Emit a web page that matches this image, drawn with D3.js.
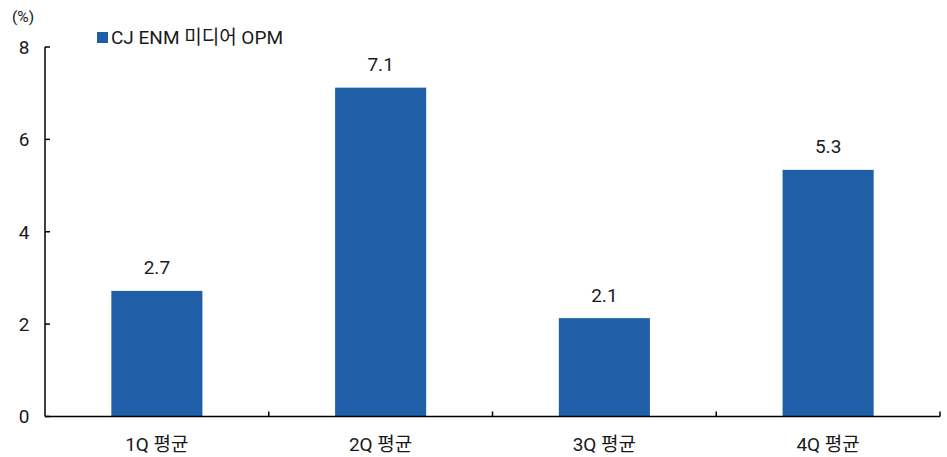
<!DOCTYPE html>
<html><head><meta charset="utf-8">
<script src="https://cdn.jsdelivr.net/npm/d3@7"></script>
<style>body{margin:0;background:#fff}svg{display:block}text{font-family:Roboto,"Noto Sans CJK KR",sans-serif;fill:#1a1a1a}</style>
</head><body>
<script>
const categories = ["1Q 평균", "2Q 평균", "3Q 평균", "4Q 평균"];
const values = [2.72, 7.12, 2.13, 5.34];
const yTicks = [0, 2, 4, 6, 8];
const seriesName = "CJ ENM 미디어 OPM";
const unitLabel = "(%)";

const W = 947, H = 457;
const m = {left: 45, right: 7, top: 47, bottom: 40.5};
const svg = d3.select("body").append("svg").attr("width", W).attr("height", H);

const x = d3.scaleBand().domain(categories).range([m.left, W - m.right]).paddingInner(0.593).paddingOuter(0.2965);
const xOuter = d3.scaleBand().domain(categories).range([m.left, W - m.right]);
const y = d3.scaleLinear().domain([0, 8]).range([H - m.bottom, m.top]);

svg.selectAll("rect.bar").data(values).join("rect").attr("class", "bar")
  .attr("x", (d, i) => x(categories[i])).attr("width", x.bandwidth())
  .attr("y", d => y(d)).attr("height", d => y(0) - y(d))
  .attr("fill", "#1f5fa8");

svg.selectAll("text.val").data(values).join("text").attr("class", "val")
  .attr("x", (d, i) => x(categories[i]) + x.bandwidth() / 2)
  .attr("y", d => y(d) - 16.5)
  .attr("text-anchor", "middle").attr("font-size", 19).text(d => d.toFixed(1));

// y axis
const ya = svg.append("g");
ya.append("line").attr("x1", m.left).attr("x2", m.left).attr("y1", y(8)).attr("y2", y(0)).attr("stroke", "#000").attr("stroke-width", 1.5);
yTicks.forEach(t => {
  ya.append("line").attr("x1", m.left).attr("x2", m.left + 5).attr("y1", y(t)).attr("y2", y(t)).attr("stroke", "#000").attr("stroke-width", 1.5);
  ya.append("text").attr("x", 29.5).attr("y", y(t)).attr("dy", "0.36em").attr("text-anchor", "end").attr("font-size", 19).text(t);
});

// x axis
const xa = svg.append("g");
xa.append("line").attr("x1", m.left).attr("x2", W - m.right).attr("y1", y(0)).attr("y2", y(0)).attr("stroke", "#000").attr("stroke-width", 1.5);
categories.forEach(c => {
  const xr = xOuter(c) + xOuter.bandwidth();
  xa.append("line").attr("x1", xr).attr("x2", xr).attr("y1", y(0)).attr("y2", y(0) - 5).attr("stroke", "#000").attr("stroke-width", 1.5);
  xa.append("text").attr("x", xOuter(c) + xOuter.bandwidth() / 2).attr("y", 451).attr("text-anchor", "middle").attr("font-size", 19).text(c);
});

svg.append("text").attr("x", 12).attr("y", 22).attr("font-size", 15.5).text(unitLabel);
svg.append("rect").attr("x", 97).attr("y", 32).attr("width", 11).attr("height", 11).attr("fill", "#1f5fa8");
svg.append("text").attr("x", 111).attr("y", 43.5).attr("font-size", 19).text(seriesName);
</script>
</body></html>
